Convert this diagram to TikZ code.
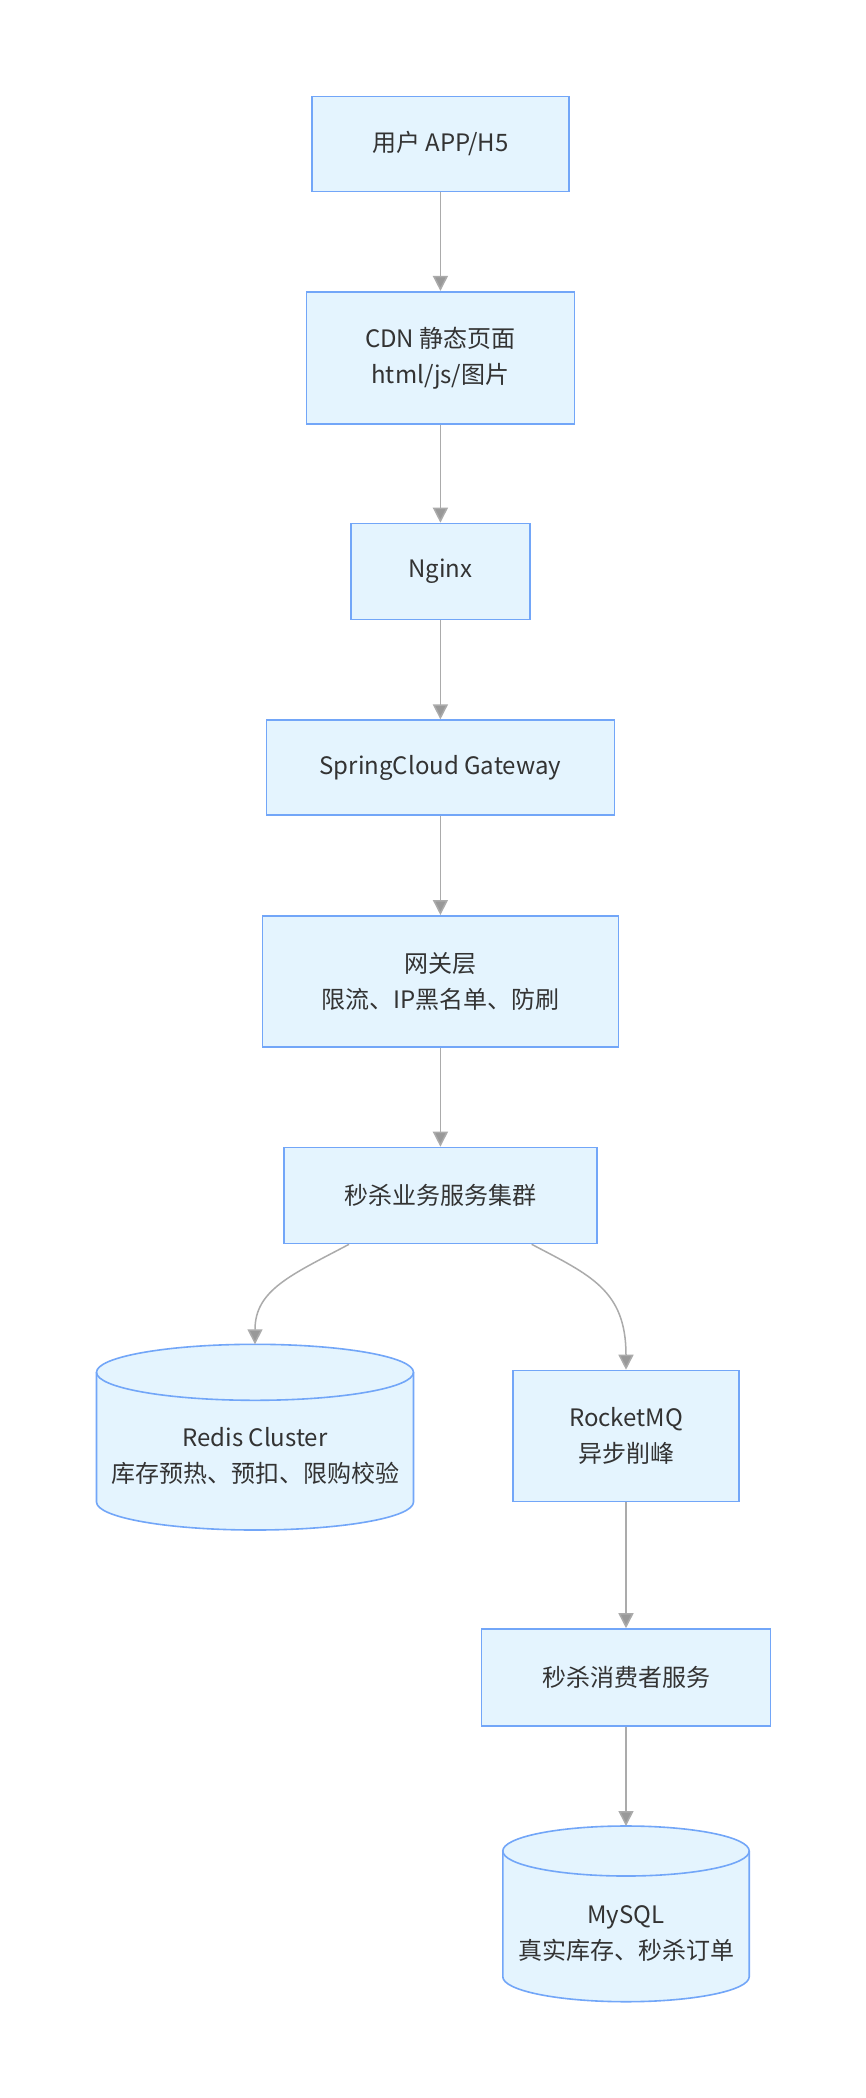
\documentclass[tikz,border=0pt]{standalone}
\usepackage{fontspec}
\setmainfont{Noto Sans CJK SC}
\usetikzlibrary{arrows.meta}
\definecolor{boxfill}{HTML}{E4F4FE}
\definecolor{boxline}{HTML}{72A6F8}
\definecolor{edgegray}{HTML}{ABABAB}
\definecolor{tipgray}{HTML}{999999}
\definecolor{textgray}{HTML}{333333}
\tikzset{
  bluebox/.style={draw=boxline, line width=1.6pt, fill=boxfill, align=center, text=textgray, inner sep=0pt},
  dbfill/.style={fill=boxfill},
  dbline/.style={draw=boxline, line width=1.6pt},
  dbtext/.style={align=center, text=textgray, inner sep=0pt},
  arr/.style={draw=edgegray, line width=1.5pt, -{Triangle[length=15pt, width=15pt, fill=tipgray]}},
}
% cylinder: centre x, top, bottom, x radius, y radius
\newcommand{\dbcyl}[5]{%
  \fill[dbfill] (#1-#4,#2+#5) -- (#1-#4,#3-#5) arc[start angle=180, end angle=0, x radius=#4, y radius=#5]
    -- (#1+#4,#2+#5) arc[start angle=0, end angle=-180, x radius=#4, y radius=#5] -- cycle;
  \draw[dbline] (#1-#4,#2+#5) -- (#1-#4,#3-#5) arc[start angle=180, end angle=0, x radius=#4, y radius=#5]
    -- (#1+#4,#2+#5);
  \draw[dbline] (#1,#2+#5) ellipse[x radius=#4, y radius=#5];
}

\begin{document}
\begin{tikzpicture}[x=1pt, y=-1pt, font=\fontsize{24}{36}\selectfont]
  \useasboundingbox[fill=white] (0,0) rectangle (866,2098);
  \node[bluebox, minimum width=257pt, minimum height=95pt] (user) at (440.4,143.9) {用户 APP/H5};
  \node[bluebox, minimum width=268pt, minimum height=132.5pt] (cdn) at (440.4,358) {CDN 静态页面\\html/js/图片};
  \node[bluebox, minimum width=179pt, minimum height=96pt] (nginx) at (440.4,571.5) {Nginx};
  \node[bluebox, minimum width=348pt, minimum height=95pt] (gw) at (440.4,767.7) {SpringCloud Gateway};
  \node[bluebox, minimum width=356pt, minimum height=131pt] (gwlayer) at (440.4,981.3) {网关层\\限流、IP黑名单、防刷};
  \node[bluebox, minimum width=313pt, minimum height=96pt] (seckill) at (440.4,1195.5) {秒杀业务服务集群};
  \node[bluebox, minimum width=226pt, minimum height=131pt] (mq) at (626,1436) {RocketMQ\\异步削峰};
  \node[bluebox, minimum width=289pt, minimum height=97pt] (consumer) at (626,1677.5) {秒杀消费者服务};
  % storage
  \dbcyl{255}{1344.3}{1530}{158.5}{28}
  \node[dbtext] (redis) at (255,1456) {Redis Cluster\\库存预热、预扣、限购校验};
  \coordinate (redistop) at (255,1344.3);
  \dbcyl{626}{1826}{2001.7}{123.2}{25}
  \node[dbtext] (mysql) at (626,1934) {MySQL\\真实库存、秒杀订单};
  \coordinate (mysqltop) at (626,1826);
  % flow
  \draw[arr] (user) -- (cdn);
  \draw[arr] (cdn) -- (nginx);
  \draw[arr] (nginx) -- (gw);
  \draw[arr] (gw) -- (gwlayer);
  \draw[arr] (gwlayer) -- (seckill);
  \draw[arr] ([xshift=-91.4pt]seckill.south) .. controls (291,1275) and (255,1290) .. (redistop);
  \draw[arr] ([xshift=91.3pt]seckill.south) .. controls (590,1275) and (626,1290) .. (mq.north);
  \draw[arr] (mq) -- (consumer);
  \draw[arr] (consumer) -- (mysqltop);
\end{tikzpicture}
\end{document}
